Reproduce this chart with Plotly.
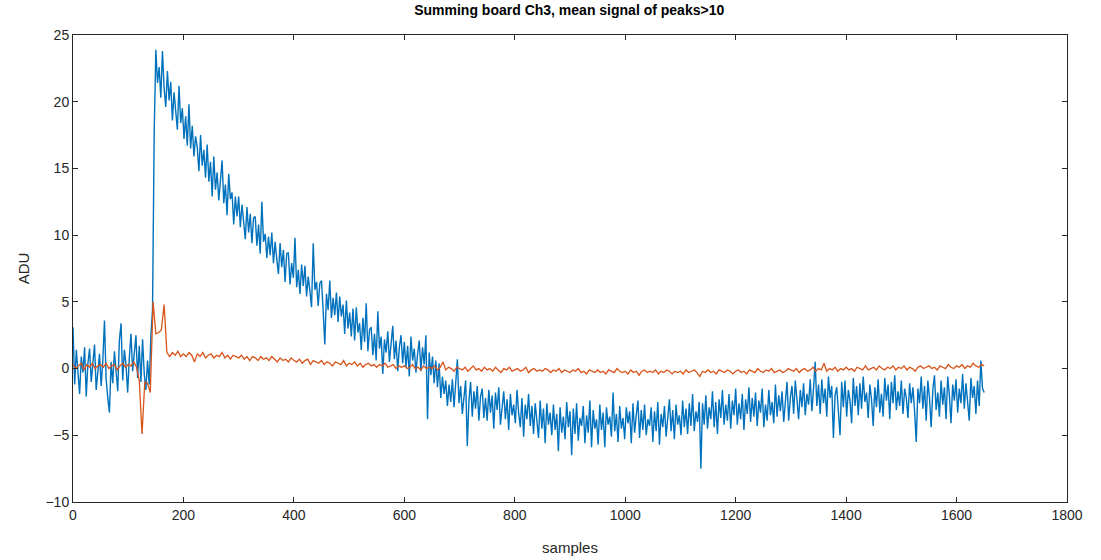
import plotly.graph_objects as go

samples_blue = list(range(0, 1651, 3))
samples_orange = list(range(0, 1651, 5))

ch3_blue = [
    3.1, -1.2, 1.4, -0.5, -1.9, 0.9, -0.3, 1.6, -2.1, 0.4,
    1.5, -1.0, 0.2, 1.8, -1.6, -0.4, 1.1, -1.3, 0.6, 3.6,
    -0.8, -2.2, -3.3, 0.5, -1.1, 1.3, -0.6, -1.7, 2.1, 3.4,
    -0.9, 1.4, 0.3, -1.8, 0.8, 2.6, -0.2, 1.0, 2.5, -0.7,
    1.7, -1.0, 2.2, -0.4, -1.6, 0.6, -1.2, 2.4, 4.4, 17.6,
    23.9, 21.4, 22.6, 20.3, 23.8, 21.0, 19.6, 22.3, 20.1, 21.5,
    18.6, 20.7, 19.0, 17.9, 21.2, 18.4, 19.5, 17.2, 18.9, 16.7,
    19.8, 16.5, 18.2, 15.9, 17.4, 16.6, 14.8, 17.5, 15.2, 16.4,
    14.3, 16.8, 14.0, 15.5, 12.9, 15.9, 13.4, 14.7, 12.6, 14.5,
    15.6, 12.4, 13.8, 11.5, 14.6, 12.7, 13.2, 10.8, 12.9, 11.4,
    12.9, 10.6, 12.3, 11.0, 9.7, 12.1, 10.2, 11.6, 9.4, 11.3,
    11.4, 9.2, 10.8, 8.6, 12.5, 9.5, 10.1, 8.3, 9.9, 8.5,
    10.2, 7.9, 9.5, 8.2, 7.1, 9.4, 7.6, 8.9, 6.5, 8.6,
    8.7, 6.3, 7.9, 6.8, 9.8, 6.1, 7.4, 5.6, 7.8, 6.2,
    7.7, 5.4, 6.9, 5.8, 4.6, 9.4, 5.9, 6.5, 4.7, 6.4,
    6.6, 4.3, 1.8, 5.6, 4.4, 6.6, 3.8, 5.3, 4.0, 5.7,
    3.5, 5.4, 3.9, 4.8, 2.6, 5.1, 3.0, 4.2, 2.4, 4.5,
    2.1, 4.6, 2.7, 3.4, 1.4, 3.8, 2.0, 4.9, 1.3, 2.9,
    3.1, 1.0, 2.6, 0.6, 4.3, 1.5, 2.4, -0.4, 2.2, 1.2,
    2.8, 0.5, 1.9, 3.2, 0.7, 2.1, -0.2, 1.6, 2.5, 0.4,
    2.0, 0.1, 1.7, -0.6, 2.4, 0.6, 1.5, -0.3, 1.1, 2.1,
    -0.2, 1.6, 0.3, 2.5, -3.8, 1.2, -0.5, 0.9, -1.1, 0.6,
    -1.4, 0.4, -2.2, -0.6, -1.9, -0.9, -2.8, -1.2, -2.5, -0.8,
    -2.9, -1.1, 0.7, -2.6, -1.3, -3.4, -2.0, -0.9, -5.8, -2.4,
    -1.0, -3.6, -1.7, -3.0, -1.3, -3.9, -2.1, -1.5, -3.7, -2.2,
    -3.9, -1.6, -3.3, -2.0, -4.5, -1.8, -3.1, -1.4, -4.2, -2.6,
    -1.7, -3.8, -2.3, -4.6, -1.9, -3.5, -2.7, -4.1, -1.6, -3.3,
    -4.4, -2.2, -5.1, -2.7, -3.8, -1.9, -4.3, -2.8, -4.9, -2.6,
    -3.7, -5.2, -2.4, -4.5, -3.0, -5.6, -2.6, -4.2, -3.3, -5.0,
    -2.7, -4.6, -3.4, -6.2, -2.9, -4.8, -3.6, -5.3, -2.5, -4.4,
    -3.2, -6.5, -3.0, -4.9, -2.6, -5.4, -3.7, -4.3, -2.8, -5.6,
    -3.5, -4.8, -2.4, -5.9, -3.1, -4.5, -3.8, -5.7, -2.7, -4.6,
    -3.3, -5.9, -2.9, -4.2, -3.6, -5.1, -1.8, -4.7, -3.4, -5.5,
    -2.8, -4.5, -3.7, -5.3, -2.9, -4.1, -3.2, -5.6, -2.6, -4.8,
    -3.5, -2.4, -5.2, -3.1, -4.6, -2.7, -5.0, -3.8, -4.3, -2.9,
    -5.5, -3.2, -4.7, -2.5, -5.7, -3.4, -4.4, -2.8, -5.1, -3.6,
    -2.3, -4.7, -3.1, -5.3, -2.7, -4.2, -3.5, -5.0, -2.4, -4.4,
    -3.0, -4.9, -2.6, -4.3, -1.9, -4.7, -3.2, -4.0, -2.5, -7.5,
    -2.6, -4.2, -2.0, -4.5, -2.9, -3.8, -1.7, -4.4, -2.5, -4.9,
    -2.3, -3.7, -1.6, -4.2, -2.7, -3.9, -1.9, -4.5, -2.4, -3.5,
    -1.5, -4.2, -2.6, -3.8, -1.9, -4.6, -2.3, -3.4, -1.4, -4.0,
    -2.2, -3.6, -1.8, -4.3, -2.4, -3.3, -1.5, -4.4, -2.7, -3.9,
    -1.6, -3.5, -2.5, -4.1, -1.2, -3.6, -2.0, -3.2, -1.7, -4.0,
    -2.4, -1.0, -3.9, -2.2, -1.3, -3.4, -0.9, -2.6, -3.8, -1.6,
    -2.9, -1.1, -3.5, -1.9, -2.7, -0.8, -3.2, -1.5, 0.5, -2.8,
    -1.2, -3.4, -0.8, -2.6, -1.5, -3.6, -0.6, -2.2, -1.3, -5.2,
    -2.0, -1.4, -3.3, -5.0, -1.0, -2.9, -0.9, -3.6, -1.6, -2.4,
    -4.1, -0.7, -2.8, -1.3, -3.5, -1.1, -3.0, -0.6, -2.5, -1.8,
    -3.7, -1.2, -2.3, -4.3, -1.4, -2.9, -0.8, -3.3, -1.9, -3.6,
    -0.7, -2.4, -1.2, -3.8, -1.0, -2.6, -0.5, -3.1, -1.7, -2.8,
    -0.9, -3.4, -1.5, -2.2, -3.7, -1.1, -2.6, -1.4, -3.2, -5.5,
    -1.5, -2.6, -0.6, -3.0, -1.3, -3.9, -0.9, -2.2, -4.4, -1.6,
    -0.5, -3.1, -1.8, -3.6, -0.9, -2.7, -1.4, -3.8, -0.6, -2.0,
    -4.1, -1.2, -2.4, -0.8, -3.3, -1.5, -2.6, -0.4, -3.0, -1.1,
    -2.5, -3.9, -0.7, -2.2, -1.3, -3.4, -0.9, -2.8, 0.6, -1.5,
    -1.8,
]

ch3_orange = [
    0.3, 0.0, 0.2, 0.4, -0.1, 0.3, 0.1, 0.4, 0.0, 0.2,
    0.3, 0.1, 0.4, 0.0, 0.2, 0.3, -0.1, 0.2, 0.4, 0.1,
    0.3, 0.2, 0.5, 0.1, -0.9, -4.9, -1.0, -1.1, -1.8, 5.0,
    2.6, 2.7, 2.9, 4.8, 1.2, 0.9, 1.2, 1.0, 1.3, 0.9,
    1.1, 0.9, 1.2, 1.0, 0.5, 1.1, 0.9, 1.2, 0.8, 1.0,
    1.1, 0.8, 1.0, 0.9, 1.2, 0.8, 1.0, 0.7, 1.0, 0.9,
    0.8, 1.0, 0.7, 0.9, 0.6, 0.9, 0.8, 0.6, 0.9, 0.7,
    0.8, 0.6, 0.9, 0.7, 0.5, 0.8, 0.6, 0.7, 0.5, 0.8,
    0.6, 0.5, 0.7, 0.4, 0.6, 0.7, 0.3, 0.6, 0.5, 0.4,
    0.6, 0.3, 0.5, 0.4, 0.2, 0.5, 0.4, 0.3, 0.6, 0.2,
    0.4, 0.3, 0.5, 0.2, 0.4, 0.1, 0.3, 0.4, 0.2, 0.3,
    0.1, 0.3, 0.2, 0.4, 0.1, 0.2, 0.3, 0.0, 0.2, 0.1,
    0.2, 0.0, 0.1, 0.3, 0.0, 0.1, -0.1, 0.2, 0.0, 0.1,
    0.0, 0.2, -0.1, 0.1, 0.5, -0.1, 0.1, 0.0, -0.2, 0.1,
    0.0, -0.1, 0.1, -0.2, 0.0, 0.2, -0.1, 0.0, -0.2, 0.1,
    -0.1, 0.0, -0.2, 0.1, -0.1, -0.3, 0.0, -0.1, 0.1, -0.2,
    -0.1, 0.0, -0.2, -0.1, 0.1, -0.3, -0.1, 0.0, -0.2, -0.1,
    -0.2, 0.0, -0.1, -0.3, -0.1, -0.2, 0.0, -0.3, -0.1, -0.2,
    -0.3, -0.1, -0.2, 0.0, -0.3, -0.2, -0.4, -0.1, -0.2, -0.3,
    -0.1, -0.3, -0.2, -0.4, -0.1, -0.2, -0.3, 0.0, -0.2, -0.3,
    -0.2, -0.4, -0.1, -0.3, -0.2, -0.5, -0.2, -0.1, -0.3, -0.2,
    -0.3, -0.1, -0.4, -0.2, -0.3, -0.1, -0.2, -0.4, -0.2, -0.3,
    -0.2, -0.4, -0.1, -0.3, -0.2, -0.1, -0.3, -0.6, -0.2, -0.3,
    -0.1, -0.3, -0.2, -0.4, -0.1, -0.2, -0.3, -0.1, -0.2, -0.4,
    -0.2, -0.1, -0.3, -0.2, -0.4, -0.1, -0.2, -0.3, 0.0, -0.2,
    -0.3, -0.1, -0.2, 0.0, -0.3, -0.2, -0.1, -0.3, -0.2, 0.0,
    -0.1, -0.2, 0.0, -0.3, -0.1, 0.0, -0.2, -0.1, 0.1, -0.2,
    0.0, -0.1, 0.4, -0.2, 0.0, -0.1, 0.1, -0.2, 0.0, -0.1,
    0.1, -0.1, 0.0, -0.2, 0.1, 0.0, -0.1, 0.2, -0.1, 0.0,
    0.1, -0.1, 0.2, 0.0, -0.1, 0.1, 0.0, 0.2, -0.1, 0.1,
    0.0, 0.2, -0.1, 0.1, 0.0, -0.2, 0.1, 0.2, 0.0, 0.1,
    0.2, 0.0, 0.1, -0.1, 0.2, 0.1, 0.0, 0.3, 0.1, 0.0,
    0.2, 0.1, 0.3, 0.0, 0.2, 0.1, 0.4, 0.2, 0.1, 0.3,
    0.2,
]

title_text = "Summing board Ch3, mean signal of peaks>10"
x_label = "samples"
y_label = "ADU"

FONT = "Liberation Sans, Arial, sans-serif"
AX = "#262626"

fig = go.Figure()
fig.add_trace(go.Scatter(x=samples_blue, y=ch3_blue, mode="lines",
                         line=dict(color="#0072BD", width=1.4), showlegend=False))
fig.add_trace(go.Scatter(x=samples_orange, y=ch3_orange, mode="lines",
                         line=dict(color="#D95319", width=1.3), showlegend=False))

axis_common = dict(showline=True, mirror="ticks", linecolor=AX, linewidth=1,
                   ticks="inside", ticklen=5, tickcolor=AX, showgrid=False,
                   zeroline=False, automargin=False,
                   tickfont=dict(family=FONT, size=14, color=AX))

fig.update_layout(
    width=1101, height=560,
    margin=dict(l=73, r=34, t=35, b=58, autoexpand=False),
    paper_bgcolor="white", plot_bgcolor="white",
    title=dict(text="<b>" + title_text + "</b>", x=0.517, xanchor="center",
               y=1 - 10 / 560, yanchor="middle", yref="container",
               font=dict(family=FONT, size=14, color="black")),
    xaxis=dict(range=[0, 1800], dtick=200, tick0=0,
               title=dict(text=x_label, standoff=20,
                          font=dict(family=FONT, size=15, color=AX)),
               **axis_common),
    yaxis=dict(range=[-10, 25], dtick=5, tick0=0,
               title=dict(text=y_label, standoff=12,
                          font=dict(family=FONT, size=15, color=AX)),
               **axis_common),
)

# the page's default 8px body margin would shift the figure; remove it
fig.write_html("out.html", config={"displayModeBar": False},
               post_script="document.body.style.margin='0px';")
